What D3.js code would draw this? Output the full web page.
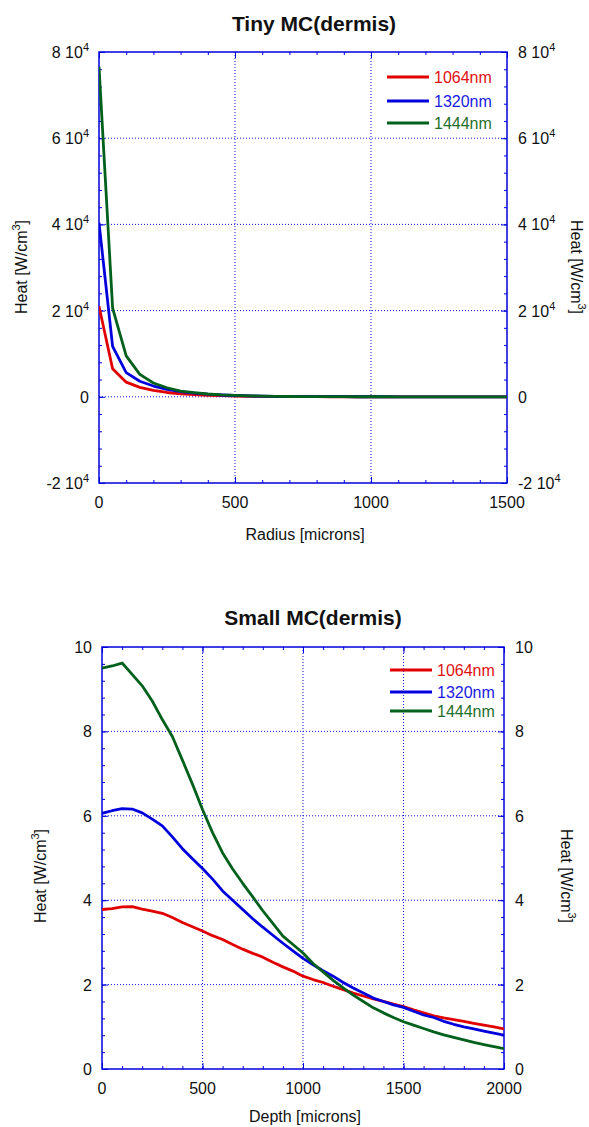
<!DOCTYPE html>
<html>
<head>
<meta charset="utf-8">
<script src="https://cdn.jsdelivr.net/npm/d3@7"></script>
<style>
  body { margin: 0; background: #fff; }
  svg text { font-family: "Liberation Sans", Arial, sans-serif; }
</style>
</head>
<body>
<svg id="svg" width="589" height="1127"></svg>
<script>
const seriesNames = ["1064nm", "1320nm", "1444nm"];

// Tiny MC (dermis): heat vs radius
const radius = [0, 50, 100, 150, 200, 250, 300, 350, 400, 450, 500, 550, 600, 650, 700, 750,
  800, 850, 900, 950, 1000, 1050, 1100, 1150, 1200, 1250, 1300, 1350, 1400, 1450, 1500];
const tinyRed = [21000, 6500, 3400, 2200, 1500, 1000, 700, 500, 350, 250, 180, 130, 90, 60, 40, 30,
  20, 15, 10, 8, 6, 5, 4, 3, 2, 2, 1, 1, 1, 1, 1];
const tinyBlue = [40400, 11700, 5600, 3600, 2500, 1700, 1200, 850, 600, 420, 300, 210, 150, 100, 70, 50,
  35, 25, 18, 12, 9, 6, 4, 3, 2, 2, 1, 1, 1, 1, 1];
const tinyGreen = [76600, 20600, 9500, 5200, 3200, 2100, 1300, 950, 650, 450, 320, 220, 150, 100, 70, 50,
  35, 25, 18, 12, 9, 6, 4, 3, 2, 2, 1, 1, 1, 1, 1];
const tinyYTicks = [-2, 0, 2, 4, 6, 8]; // x 10^4
const tinyXTicks = [0, 500, 1000, 1500];

// Small MC (dermis): heat vs depth
const depth = [0, 50, 100, 150, 200, 250, 300, 350, 400, 450, 500, 550, 600, 650, 700, 750, 800, 850, 900, 950,
  1000, 1050, 1100, 1150, 1200, 1250, 1300, 1350, 1400, 1450, 1500, 1550, 1600, 1650, 1700, 1750, 1800, 1850, 1900, 1950, 2000];
const smallRed = [3.78, 3.80, 3.84, 3.85, 3.79, 3.74, 3.69, 3.59, 3.47, 3.37, 3.27, 3.16, 3.07, 2.95, 2.84, 2.74, 2.65, 2.53, 2.42, 2.32,
  2.20, 2.12, 2.05, 1.96, 1.88, 1.80, 1.73, 1.66, 1.60, 1.54, 1.48, 1.40, 1.33, 1.26, 1.21, 1.17, 1.13, 1.08, 1.04, 1.00, 0.95];
const smallBlue = [6.06, 6.12, 6.17, 6.16, 6.07, 5.92, 5.76, 5.50, 5.22, 4.98, 4.75, 4.50, 4.22, 4.00, 3.78, 3.56, 3.36, 3.17, 2.98, 2.80,
  2.62, 2.47, 2.33, 2.20, 2.05, 1.92, 1.80, 1.68, 1.60, 1.52, 1.46, 1.37, 1.28, 1.22, 1.13, 1.06, 1.00, 0.95, 0.90, 0.85, 0.80];
const smallGreen = [9.50, 9.55, 9.62, 9.35, 9.08, 8.72, 8.28, 7.88, 7.32, 6.75, 6.15, 5.60, 5.12, 4.74, 4.40, 4.08, 3.75, 3.45, 3.15, 2.95,
  2.75, 2.50, 2.30, 2.10, 1.92, 1.75, 1.60, 1.45, 1.33, 1.22, 1.12, 1.04, 0.96, 0.88, 0.81, 0.75, 0.69, 0.63, 0.58, 0.53, 0.48];
const smallYTicks = [0, 2, 4, 6, 8, 10];
const smallXTicks = [0, 500, 1000, 1500, 2000];

const lineColors = ["#e00000", "#0000dd", "#00601c"];
const textColors = ["#e01010", "#1a1ae0", "#1f6e2a"];
const axisBlue = "#0000dd";

const svg = d3.select("#svg");

function panel(o) {
  const g = svg.append("g");
  const x = d3.scaleLinear().domain(o.xDomain).range([o.left, o.right]);
  const y = d3.scaleLinear().domain(o.yDomain).range([o.bottom, o.top]);

  // dotted grid
  g.append("g").selectAll("line")
    .data(o.xTicks.slice(1, -1))
    .join("line")
    .attr("x1", d => x(d)).attr("x2", d => x(d))
    .attr("y1", o.top).attr("y2", o.bottom)
    .attr("stroke", "#1010ee").attr("stroke-width", 1)
    .attr("stroke-dasharray", "1,2");
  g.append("g").selectAll("line")
    .data(o.yTicks.map(v => v * o.yMul).slice(1, -1))
    .join("line")
    .attr("x1", o.left).attr("x2", o.right)
    .attr("y1", d => y(d)).attr("y2", d => y(d))
    .attr("stroke", "#1010ee").attr("stroke-width", 1)
    .attr("stroke-dasharray", "1,2");

  // axes with inward ticks
  const yVals = o.yTicks.map(v => v * o.yMul);
  const step = yVals[1] - yVals[0];
  const minorY = d3.range(o.yDomain[0], o.yDomain[1] + 1e-9, step / 5);
  const xStep = o.xTicks[1] - o.xTicks[0];
  const minorX = d3.range(o.xDomain[0], o.xDomain[1] + 1e-9, xStep / 5);

  const styleAxis = sel => {
    sel.select(".domain").remove();
    sel.selectAll("line").attr("stroke", axisBlue);
    sel.selectAll("text").remove();
  };
  g.append("g").attr("transform", `translate(${o.left},0)`)
    .call(d3.axisLeft(y).tickValues(minorY).tickSize(-3).tickFormat("")).call(styleAxis);
  g.append("g").attr("transform", `translate(${o.right},0)`)
    .call(d3.axisRight(y).tickValues(minorY).tickSize(-3).tickFormat("")).call(styleAxis);
  g.append("g").attr("transform", `translate(${o.left},0)`)
    .call(d3.axisLeft(y).tickValues(yVals).tickSize(-6).tickFormat("")).call(styleAxis);
  g.append("g").attr("transform", `translate(${o.right},0)`)
    .call(d3.axisRight(y).tickValues(yVals).tickSize(-6).tickFormat("")).call(styleAxis);
  g.append("g").attr("transform", `translate(0,${o.bottom})`)
    .call(d3.axisBottom(x).tickValues(minorX).tickSize(-3).tickFormat("")).call(styleAxis);
  g.append("g").attr("transform", `translate(0,${o.top})`)
    .call(d3.axisTop(x).tickValues(minorX).tickSize(-3).tickFormat("")).call(styleAxis);
  g.append("g").attr("transform", `translate(0,${o.bottom})`)
    .call(d3.axisBottom(x).tickValues(o.xTicks).tickSize(-6).tickFormat("")).call(styleAxis);
  g.append("g").attr("transform", `translate(0,${o.top})`)
    .call(d3.axisTop(x).tickValues(o.xTicks).tickSize(-6).tickFormat("")).call(styleAxis);

  // frame
  g.append("rect")
    .attr("x", o.left).attr("y", o.top)
    .attr("width", o.right - o.left).attr("height", o.bottom - o.top)
    .attr("fill", "none").attr("stroke", axisBlue).attr("stroke-width", 1.5);

  // tick labels
  const tickLabel = (sel, v) => {
    if (o.yMul !== 1 && v !== 0) {
      sel.append("tspan").text(`${v} 10`);
      sel.append("tspan").attr("font-size", 11).attr("dy", -7).text("4");
    } else {
      sel.text(v);
    }
  };
  o.yTicks.forEach(v => {
    g.append("text").attr("x", o.left - 10).attr("y", y(v * o.yMul) + 6)
      .attr("text-anchor", "end").attr("font-size", 16).attr("fill", "#111")
      .call(tickLabel, v);
    g.append("text").attr("x", o.right + 11).attr("y", y(v * o.yMul) + 6)
      .attr("font-size", 16).attr("fill", "#111")
      .call(tickLabel, v);
  });
  o.xTicks.forEach(v => {
    g.append("text").attr("x", x(v)).attr("y", o.bottom + 25)
      .attr("text-anchor", "middle").attr("font-size", 16).attr("fill", "#111")
      .text(v);
  });

  // titles
  g.append("text").attr("x", o.titleX).attr("y", o.titleY)
    .attr("text-anchor", "middle").attr("font-size", 21).attr("font-weight", "bold")
    .attr("fill", "#111").text(o.title);
  g.append("text").attr("x", (o.left + o.right) / 2 + 2).attr("y", o.xLabelY)
    .attr("text-anchor", "middle").attr("font-size", 16).attr("fill", "#111")
    .text(o.xLabel);

  const heatLabel = (sel) => {
    sel.append("tspan").text("Heat [W/cm");
    sel.append("tspan").attr("font-size", 11).attr("dy", -7).text("3");
    sel.append("tspan").attr("dy", 7).text("]");
  };
  g.append("text")
    .attr("transform", `translate(${o.yLabelLeftX},${o.yLabelMid}) rotate(-90)`)
    .attr("text-anchor", "middle").attr("font-size", 16).attr("fill", "#111")
    .call(heatLabel);
  g.append("text")
    .attr("transform", `translate(${o.yLabelRightX},${o.yLabelMid}) rotate(90)`)
    .attr("text-anchor", "middle").attr("font-size", 16).attr("fill", "#111")
    .call(heatLabel);

  // curves
  const line = d3.line().x(d => x(d[0])).y(d => y(d[1]));
  const clipId = "clip-" + o.title.replace(/\W/g, "");
  g.append("clipPath").attr("id", clipId).append("rect")
    .attr("x", o.left).attr("y", o.top).attr("width", o.right - o.left).attr("height", o.bottom - o.top);
  o.series.forEach((s, i) => {
    g.append("path")
      .datum(o.xs.map((xv, j) => [xv, s[j]]))
      .attr("d", line)
      .attr("fill", "none")
      .attr("stroke", lineColors[i])
      .attr("stroke-width", 2.8)
      .attr("stroke-linejoin", "round")
      .attr("clip-path", `url(#${clipId})`);
  });

  // legend
  seriesNames.forEach((name, i) => {
    const ly = o.legendY[i];
    g.append("line")
      .attr("x1", o.legendX).attr("x2", o.legendX + 42)
      .attr("y1", ly).attr("y2", ly)
      .attr("stroke", lineColors[i]).attr("stroke-width", 3);
    g.append("text").attr("x", o.legendX + 47).attr("y", ly + 6)
      .attr("font-size", 16).attr("fill", textColors[i]).text(name);
  });
}

panel({
  title: "Tiny MC(dermis)", titleX: 314, titleY: 31,
  xLabel: "Radius [microns]", xLabelY: 540,
  left: 99, right: 507, top: 52, bottom: 483,
  xDomain: [0, 1500], yDomain: [-20000, 80000], yMul: 10000,
  xTicks: tinyXTicks, yTicks: tinyYTicks,
  yLabelLeftX: 27, yLabelRightX: 571, yLabelMid: 267,
  xs: radius, series: [tinyRed, tinyBlue, tinyGreen],
  legendX: 387, legendY: [77, 101, 123]
});

panel({
  title: "Small MC(dermis)", titleX: 313, titleY: 625,
  xLabel: "Depth [microns]", xLabelY: 1122,
  left: 102, right: 504, top: 647, bottom: 1069,
  xDomain: [0, 2000], yDomain: [0, 10], yMul: 1,
  xTicks: smallXTicks, yTicks: smallYTicks,
  yLabelLeftX: 46, yLabelRightX: 561, yLabelMid: 876,
  xs: depth, series: [smallRed, smallBlue, smallGreen],
  legendX: 390, legendY: [670, 692, 711]
});
</script>
</body>
</html>
